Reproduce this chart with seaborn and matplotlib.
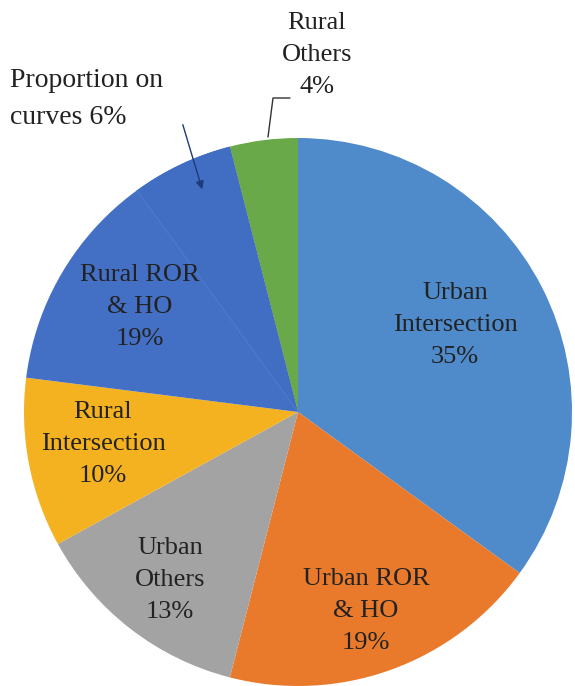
import matplotlib
matplotlib.use("Agg")
import matplotlib.pyplot as plt
from matplotlib.patches import Wedge
import seaborn as sns
import numpy as np

# Crash share by road environment (percent), clockwise from 12 o'clock
categories = ["Urban\nIntersection", "Urban ROR\n& HO", "Urban\nOthers",
              "Rural\nIntersection", "Rural ROR\n& HO", "Rural\nOthers"]
shares = [35, 19, 13, 10, 19, 4]
# Part of the rural ROR & HO slice that happened on curves
curve_share = 6
colors = ["#4f8acb", "#e97a2c", "#a3a3a3", "#f4b120", "#4370c5", "#69a94a"]

sns.set_theme(style="white")
plt.rcParams["font.family"] = ["Liberation Serif", "DejaVu Serif"]

W, H = 575, 686
fig = plt.figure(figsize=(W / 100, H / 100), dpi=100)
ax = fig.add_axes([0, 0, 1, 1])

cx, cy, R = 298, H - 412, 274
palette = sns.color_palette(colors)
ax.pie(shares, colors=palette, startangle=90, counterclock=False,
       center=(cx, cy), radius=R, frame=True, wedgeprops=dict(linewidth=0))
ax.set_xlim(0, W)
ax.set_ylim(0, H)
ax.set_aspect("equal")
ax.axis("off")

# Sub-wedge for the share on curves (end of the rural ROR & HO slice)
end_pct = sum(shares[:5])
sub_start = end_pct - curve_share
theta1 = 90 - end_pct * 3.6
theta2 = 90 - sub_start * 3.6
ax.add_patch(Wedge((cx, cy), R, theta1, theta2, facecolor="#416ec3",
                   edgecolor="none", zorder=2))
ang = np.deg2rad(theta2)
ax.plot([cx, cx + R * np.cos(ang)], [cy, cy + R * np.sin(ang)],
        color="#4c7bcb", lw=0.8, zorder=3)

FS = 19
LS = 1.6
txt = dict(ha="center", va="center", fontsize=FS, color="#222222",
           linespacing=LS, zorder=5)

def label(i, x, y):
    ax.text(x, H - y, f"{categories[i]}\n{shares[i]}%", **txt)

label(0, 455, 325)
label(1, 366, 611)
label(2, 170, 580)
label(3, 103, 444)
label(4, 140, 307)
ax.text(317, H - 55, f"{categories[5]}\n{shares[5]}%", **txt)

# Leader line for the small green slice
ax.plot([290, 273, 268], [H - 98, H - 98, H - 137], color="#333333",
        lw=1.0, zorder=5)

# Callout for the share on curves
ax.text(10, H - 99, f"Proportion on\ncurves {curve_share}%", ha="left",
        va="center", fontsize=20, color="#222222", linespacing=LS,
        zorder=5)
ax.annotate("", xy=(203, H - 192), xytext=(182, H - 122),
            arrowprops=dict(arrowstyle="-|>", color="#1f3a78", lw=1.0,
                            mutation_scale=12), zorder=6)

fig.savefig("out.png", dpi=100)
